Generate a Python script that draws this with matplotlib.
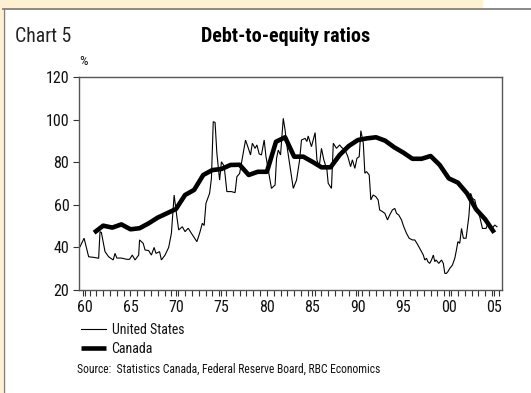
import matplotlib
matplotlib.use("Agg")
import matplotlib.pyplot as plt
import matplotlib.font_manager as fm
from matplotlib.patches import Rectangle
from matplotlib.lines import Line2D
from matplotlib.ticker import FixedLocator, MultipleLocator

# Canada: annual debt-to-equity ratio (%)
canada_years = list(range(1961, 2006))
canada_values = [46.9, 50.2, 49.3, 50.8, 48.5, 49.0, 51.3, 54.0, 56.0, 58.0,
                 64.6, 67.0, 74.0, 76.3, 76.8, 78.7, 78.8, 74.0, 75.5, 75.5,
                 89.6, 91.7, 82.6, 82.6, 80.2, 77.6, 77.6, 83.4, 87.6, 90.4,
                 91.2, 91.7, 90.1, 87.0, 84.5, 81.6, 81.6, 82.9, 78.7, 72.4,
                 70.4, 65.4, 57.9, 53.2, 46.9]

# United States: quarterly-frequency debt-to-equity ratio (%)
us_years = [1959.45, 1959.9, 1960.4, 1961.0, 1961.5, 1961.65, 1961.8, 1962.2, 1962.6, 1963.1,
            1963.3, 1963.5, 1964.0, 1964.6, 1964.9, 1965.2, 1965.5, 1965.9, 1966.0, 1966.4,
            1966.6, 1967.0, 1967.3, 1967.6, 1967.8, 1968.2, 1968.4, 1968.8, 1969.2, 1969.5,
            1969.8, 1970.1, 1970.3, 1970.7, 1971.0, 1971.35, 1971.7, 1972.3, 1972.6, 1972.9,
            1973.1, 1973.3, 1973.7, 1973.9, 1974.1, 1974.3, 1974.5, 1974.8, 1975.0, 1975.3,
            1975.6, 1976.1, 1976.5, 1976.7, 1977.0, 1977.65, 1977.9, 1978.2, 1978.4, 1978.7,
            1978.9, 1979.15, 1979.4, 1979.7, 1979.9, 1980.5, 1980.9, 1981.06, 1981.25, 1981.5,
            1981.8, 1982.0, 1982.16, 1982.9, 1983.26, 1983.6, 1983.8, 1984.2, 1984.4, 1984.54,
            1984.9, 1985.3, 1985.5, 1985.75, 1986.0, 1986.26, 1986.6, 1986.74, 1987.1, 1987.3,
            1987.65, 1988.0, 1988.2, 1988.6, 1988.9, 1989.2, 1989.4, 1989.67, 1989.9, 1990.15,
            1990.33, 1990.6, 1990.77, 1990.95, 1991.25, 1991.43, 1991.68, 1991.98, 1992.23, 1992.4,
            1992.7, 1992.97, 1993.26, 1993.5, 1993.8, 1994.06, 1994.25, 1994.5, 1994.8, 1995.05,
            1995.35, 1995.64, 1996.0, 1996.26, 1996.5, 1996.8, 1997.0, 1997.2, 1997.36, 1997.55,
            1997.7, 1997.9, 1998.1, 1998.3, 1998.46, 1998.6, 1998.9, 1999.2, 1999.4, 1999.56,
            1999.74, 1999.9, 2000.1, 2000.4, 2000.66, 2000.84, 2001.0, 2001.2, 2001.4, 2001.6,
            2001.9, 2002.2, 2002.4, 2002.6, 2002.86, 2003.1, 2003.4, 2003.7, 2003.95, 2004.1,
            2004.3, 2004.5, 2004.76, 2005.05, 2005.3]
us_values = [40.3, 44.3, 35.6, 35.3, 34.9, 47.4, 47.0, 38.0, 35.6, 34.1,
             37.2, 35.0, 35.0, 34.4, 34.4, 36.4, 34.1, 36.4, 43.5, 41.9,
             38.8, 38.5, 36.4, 40.0, 37.2, 38.0, 34.1, 36.4, 40.0, 46.6,
             64.6, 54.4, 48.2, 49.7, 47.4, 49.0, 46.6, 42.7, 46.6, 51.3,
             50.3, 60.7, 65.4, 72.4, 99.0, 98.7, 84.2, 71.6, 80.2, 78.2,
             66.2, 66.2, 65.7, 73.2, 74.7, 90.4, 87.3, 83.4, 88.9, 86.5,
             88.1, 83.9, 83.4, 90.4, 82.6, 67.7, 69.3, 81.8, 85.7, 83.4,
             100.6, 95.1, 88.9, 67.7, 71.6, 81.1, 90.4, 91.2, 89.7, 92.3,
             87.3, 93.9, 81.1, 77.9, 86.5, 81.1, 76.4, 70.1, 67.7, 88.9,
             86.5, 88.1, 87.0, 85.7, 82.6, 77.9, 81.1, 77.1, 81.8, 82.6,
             94.8, 88.9, 74.8, 75.6, 74.0, 62.3, 64.6, 63.8, 62.3, 57.6,
             56.8, 56.0, 52.9, 55.2, 57.6, 58.3, 56.0, 55.2, 52.9, 49.7,
             46.6, 44.3, 43.5, 43.5, 41.9, 39.6, 38.0, 36.4, 34.1, 34.9,
             33.3, 32.5, 34.1, 36.4, 33.3, 34.1, 32.5, 34.1, 32.5, 27.8,
             27.8, 28.6, 30.1, 31.7, 34.9, 38.8, 42.7, 41.9, 48.9, 44.3,
             44.3, 54.4, 65.4, 63.0, 62.3, 57.6, 54.4, 48.9, 48.9, 48.9,
             51.3, 48.9, 48.9, 50.5, 49.7]

x_tick_years = [1960, 1965, 1970, 1975, 1980, 1985, 1990, 1995, 2000, 2005]
x_tick_labels = ["60", "65", "70", "75", "80", "85", "90", "95", "00", "05"]
y_ticks = [20, 40, 60, 80, 100, 120]

# Prefer a narrow sans face; fall back to DejaVu Sans with smaller sizes.
narrow_family, narrow_stretch, scale = None, "normal", 0.8
preferred = ["Liberation Sans Narrow", "Arial Narrow", "Roboto Condensed",
             "Open Sans Condensed", "Noto Sans Condensed", "DejaVu Sans Condensed"]
names = {f.name for f in fm.fontManager.ttflist}
for n in preferred:
    if n in names:
        narrow_family, scale = n, 1.0
        break
if narrow_family is None:
    for f in fm.fontManager.ttflist:
        st = str(f.stretch)
        if st in ("condensed", "semi-condensed", "extra-condensed") or st.isdigit() and int(st) < 500:
            if "Mono" in f.name or "Serif" in f.name:
                continue
            narrow_family, narrow_stretch, scale = f.name, st, 1.0
            break
if narrow_family is None:
    narrow_family = "DejaVu Sans"

plt.rcParams["font.family"] = [narrow_family, "DejaVu Sans"]
plt.rcParams["font.stretch"] = narrow_stretch

W, H = 531, 393
fig = plt.figure(figsize=(W / 100, H / 100), dpi=100)
fig.patch.set_facecolor("white")


def fx(px):
    return px / W


def fy(py):
    return 1 - py / H


# Page frame: beige header band and left strip with grey rules
fig.add_artist(Rectangle((0, fy(8)), fx(483), 8 / H, transform=fig.transFigure,
                         facecolor="#FEF1D3", edgecolor="none", zorder=0))
fig.add_artist(Rectangle((0, 0), fx(3), 1, transform=fig.transFigure,
                         facecolor="#FEF1D3", edgecolor="none", zorder=0))
fig.add_artist(Line2D([fx(3), 1], [fy(8.5), fy(8.5)], transform=fig.transFigure,
                      color="#808080", lw=1.3))
fig.add_artist(Line2D([fx(3.5), fx(3.5)], [0, fy(8.5)], transform=fig.transFigure,
                      color="#808080", lw=1.0))

ax = fig.add_axes([fx(79), fy(290), fx(502 - 79), (290 - 77) / H])

ax.plot(us_years, us_values, color="black", lw=0.8, label="United States",
        solid_joinstyle="miter")
ax.plot(canada_years, canada_values, color="black", lw=3.3, label="Canada",
        solid_joinstyle="round", solid_capstyle="butt")

ax.set_xlim(1959.34, 2005.85)
ax.set_ylim(20, 120)
ax.xaxis.set_major_locator(FixedLocator(x_tick_years))
ax.set_xticks(x_tick_years)
ax.set_xticklabels(x_tick_labels)
ax.xaxis.set_minor_locator(MultipleLocator(0.75))
ax.set_yticks(y_ticks)

for sp in ax.spines.values():
    sp.set_color("#555555")
    sp.set_linewidth(1.0)

ax.tick_params(axis="both", which="both", direction="out", color="#333333",
               labelsize=11.5 * scale, labelcolor="#111111")
ax.tick_params(axis="x", which="major", length=4, width=0.8, pad=3)
ax.tick_params(axis="x", which="minor", length=4, width=0.8)
ax.tick_params(axis="y", which="major", length=4, width=0.8, pad=3)

fig.text(fx(15), fy(42), "Chart 5", fontsize=14.2 * scale, color="#222222",
         ha="left", va="baseline")
fig.text(fx(286), fy(42), "Debt-to-equity ratios", fontsize=14.5 * scale,
         fontweight="bold", color="black", ha="center", va="baseline")
fig.text(fx(84), fy(65), "%", fontsize=9.5 * scale, color="#111111",
         ha="center", va="baseline")

leg = fig.legend(loc="upper left", bbox_to_anchor=(fx(81), fy(323)),
                 frameon=False, fontsize=10 * scale, handlelength=1.8 / scale,
                 handletextpad=0.4, labelspacing=0.35 / scale, borderpad=0,
                 borderaxespad=0)
for t in leg.get_texts():
    t.set_color("#111111")

fig.text(fx(77), fy(369), "Source:  Statistics Canada, Federal Reserve Board, RBC Economics",
         fontsize=8.4 * scale, color="#111111", ha="left", va="center")

fig.savefig("out.png", dpi=100)
